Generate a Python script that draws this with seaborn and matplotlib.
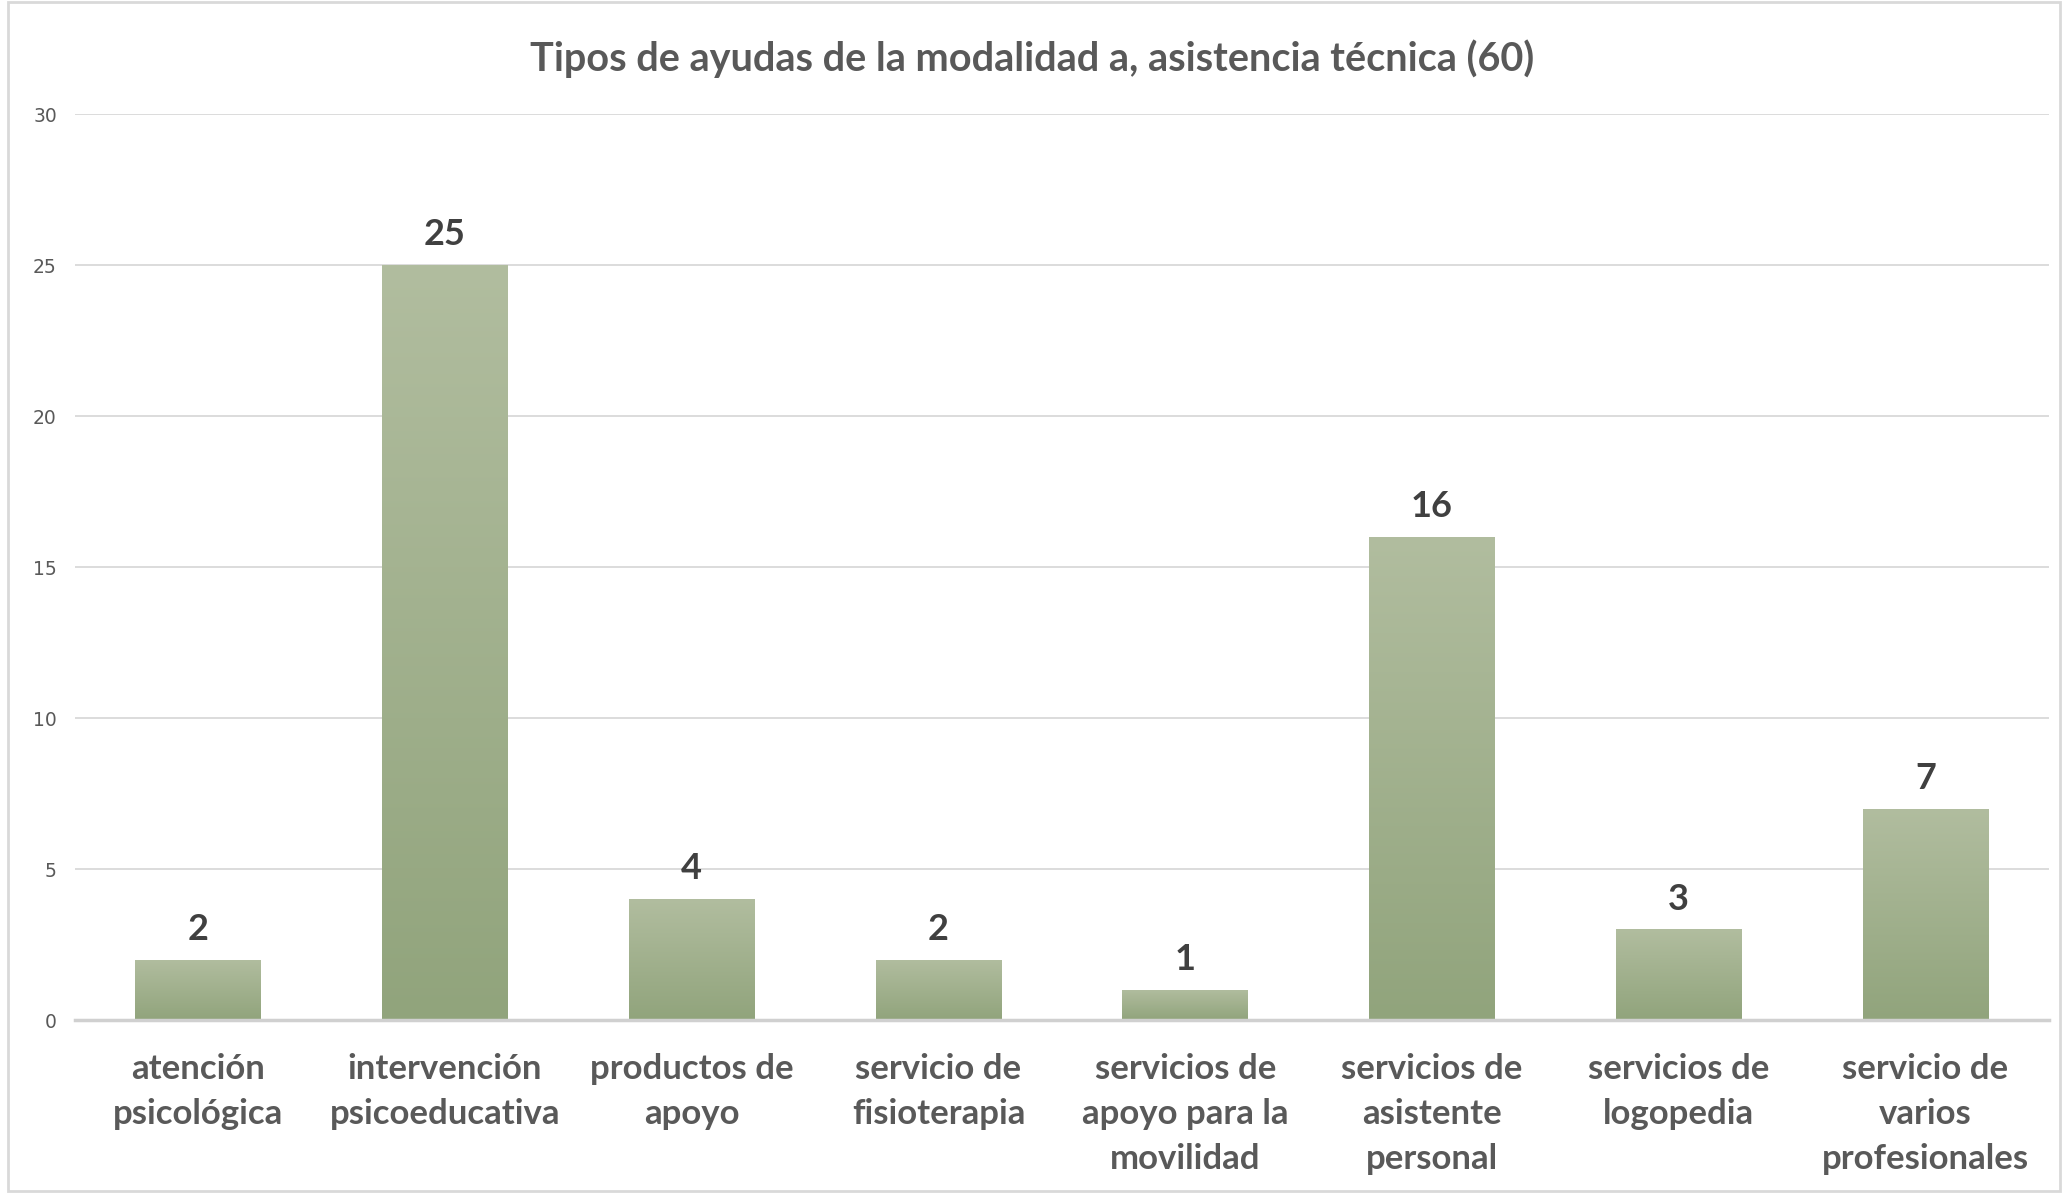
import numpy as np
import pandas as pd
import matplotlib
matplotlib.use("Agg")
import matplotlib.pyplot as plt
from matplotlib.colors import LinearSegmentedColormap
from matplotlib.patches import Rectangle
import seaborn as sns

categorias = [
    "atención\npsicológica",
    "intervención\npsicoeducativa",
    "productos de\napoyo",
    "servicio de\nfisioterapia",
    "servicios de\napoyo para la\nmovilidad",
    "servicios de\nasistente\npersonal",
    "servicios de\nlogopedia",
    "servicio de\nvarios\nprofesionales",
]
valores = [2, 25, 4, 2, 1, 16, 3, 7]
titulo = "Tipos de ayudas de la modalidad a, asistencia técnica (60)"
yticks = [0, 5, 10, 15, 20, 25, 30]


def main():
    sns.set_style("white")
    plt.rcParams["font.family"] = ["Lato", "DejaVu Sans"]

    df = pd.DataFrame({"categoria": categorias, "valor": valores})

    fig = plt.figure(figsize=(20.64, 11.93), dpi=100)
    ax = fig.add_axes([0.0363, 0.145, 0.9564, 0.7594])

    sns.barplot(data=df, x="categoria", y="valor", color="#a3b48e",
                width=0.51, saturation=1, ax=ax, zorder=3)

    # vertical gradient inside each bar (light top, darker bottom)
    grad = LinearSegmentedColormap.from_list("g", ["#91a47c", "#b1bd9f"])
    for bar in ax.patches:
        x0, y0 = bar.get_x(), bar.get_y()
        w, h = bar.get_width(), bar.get_height()
        img = ax.imshow(np.linspace(0, 1, 256).reshape(-1, 1), cmap=grad,
                        extent=[x0, x0 + w, y0, y0 + h], origin="lower",
                        aspect="auto", zorder=4)
        img.set_clip_path(bar)
        bar.set_edgecolor("none")

    ax.set_ylim(0, 30)
    ax.set_xlim(-0.5, len(categorias) - 0.5)
    ax.set_yticks(yticks)
    ax.yaxis.grid(True, color="#d9d9d9", linewidth=1.3, zorder=0)
    ax.xaxis.grid(False)
    for s in ["top", "right", "left"]:
        ax.spines[s].set_visible(False)
    ax.spines["bottom"].set_color("#d0d0d0")
    ax.spines["bottom"].set_linewidth(2.5)
    ax.spines["bottom"].set_zorder(5)

    ax.set_xlabel("")
    ax.set_ylabel("")
    ax.tick_params(axis="x", length=0, pad=24)
    ax.tick_params(axis="y", length=0, pad=13)
    for lbl in ax.get_xticklabels():
        lbl.set_fontsize(25)
        lbl.set_fontweight("bold")
        lbl.set_color("#595959")
        lbl.set_linespacing(1.5)
    for lbl in ax.get_yticklabels():
        lbl.set_fontsize(13.5)
        lbl.set_color("#595959")
        lbl.set_family("DejaVu Sans")

    ax.bar_label(ax.containers[0], labels=[str(v) for v in valores],
                 padding=10, fontsize=26, fontweight="bold", color="#404040",
                 zorder=6)

    fig.suptitle(titulo, y=0.9505, va="center", fontsize=28.5,
                 fontweight="bold", color="#595959")

    fig.patches.append(Rectangle((0.004, 0.002), 0.994, 0.996,
                                 transform=fig.transFigure, fill=False,
                                 edgecolor="#d9d9d9", linewidth=2))

    fig.savefig("out.png", dpi=100)


if __name__ == "__main__":
    main()
